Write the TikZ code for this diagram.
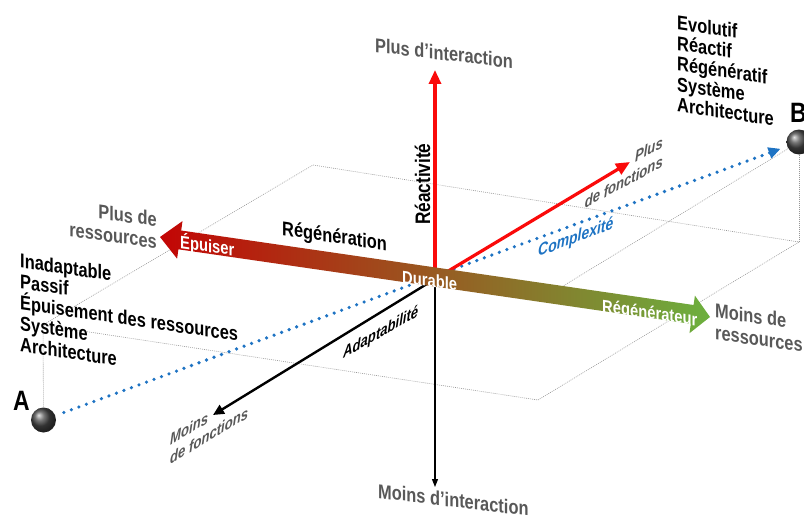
\documentclass[tikz,border=0pt]{standalone}
\usepackage{fontspec}
\setmainfont{Liberation Sans}[FakeStretch=0.82]
\usetikzlibrary{arrows.meta}

\definecolor{axisgray}{RGB}{88,88,88}
\definecolor{planegray}{RGB}{150,150,150}
\definecolor{cplxblue}{RGB}{30,115,195}
\definecolor{axisred}{RGB}{250,10,10}
\definecolor{bandred}{RGB}{195,5,5}
\definecolor{bandbrown}{RGB}{168,92,42}
\definecolor{bandgreen}{RGB}{108,176,62}

\begin{document}
\begin{tikzpicture}[x=1pt, y=-1pt,
  planeline/.style={draw=planegray, line width=0.6pt, dash pattern=on 0.9pt off 1.1pt},
  ball/.style={circle, minimum size=25pt, inner sep=0pt, shade, ball color=black!72},
  cplxline/.style={cplxblue, line width=3.6pt, line cap=round, dash pattern=on 0pt off 8pt},
  redaxis/.style={axisred, line width=3.2pt, -{Triangle[length=14pt,width=12pt]}},
  blackaxis/.style={black, line width=2.4pt, -{Triangle[length=11pt,width=10pt]}},
  thinaxis/.style={black, line width=1.2pt, -{Triangle[length=8pt,width=6pt]}},
  listtxt/.style={inner sep=0pt, align=left, font=\fontsize{20}{21}\selectfont\bfseries, yslant=-0.145},
  endtxt/.style={inner sep=0pt, text=axisgray, font=\fontsize{20}{22}\selectfont\bfseries},
  fntxt/.style={inner sep=0pt, text=axisgray, font=\fontsize{16}{19}\selectfont\bfseries\itshape},
  bandtxt/.style={inner sep=0pt, text=white, font=\fontsize{18}{18}\selectfont\bfseries, yslant=-0.1455},
  ptlabel/.style={inner sep=0pt, font=\fontsize{28}{28}\selectfont\bfseries}
]
  \useasboundingbox (0,0) rectangle (804,519);

  % Points and axes ends
  \coordinate (O) at (435,279);
  \coordinate (ztop) at (435,70);
  \coordinate (zbot) at (435,487);
  \coordinate (fplus) at (630,162);
  \coordinate (fminus) at (213,415);

  % Plane (dotted)
  \coordinate (pL) at (43,325);
  \coordinate (pT) at (313,165);
  \coordinate (pR) at (799,242);
  \coordinate (pF) at (538,400);
  \coordinate (bfoot) at (550,294);
  \node[ball] (A) at (43.5,420) {};
  \node[ball] (B) at (799,142) {};
  \draw[planeline] (pL) -- (pT) -- (pR) -- (pF) -- cycle;
  \draw[planeline] (A) -- (pL);
  \draw[planeline] (B) -- (pR);
  \draw[planeline] (B) -- (bfoot);

  % Complexity A -> B
  \draw[cplxline, shorten <=9pt, shorten >=7pt, -{Triangle[length=12pt,width=11pt]}] (A) -- (B);

  % Axes
  \draw[redaxis] (O) -- (ztop);
  \draw[thinaxis] (O) -- (zbot);
  \draw[redaxis] (O) -- (fplus);
  \draw[blackaxis] (O) -- (fminus);

  % Resources band
  \shade[left color=bandred, middle color=bandbrown, right color=bandgreen]
    (160,237) -- (182.5,221.1) -- (181.2,230.5) -- (693.6,305.0) -- (694.9,295.6)
    -- (710,317) -- (689.5,333.2) -- (690.8,323.8) -- (178.4,249.3) -- (177.1,258.7) -- cycle;

  % Texts
  \node[listtxt, anchor=north west] (leftlist) at (20,253)
    {Inadaptable\\Passif\\Épuisement des ressources\\Système\\Architecture};
  \node[listtxt, anchor=north west, font=\fontsize{20}{20.5}\selectfont\bfseries] (rightlist) at (677,15)
    {Evolutif\\Réactif\\Régénératif\\Système\\Architecture};
  \node[endtxt, anchor=base west, yslant=-0.12] (plusint) at (375,52) {Plus d'interaction};
  \node[endtxt, anchor=base west, yslant=-0.12] (moinsint) at (378,498) {Moins d'interaction};
  \node[endtxt, anchor=north east, align=right, yslant=-0.14] (plusres) at (157,212) {Plus de\\ressources};
  \node[endtxt, anchor=north west, align=left, yslant=-0.14] (moinsres) at (715,303) {Moins de\\ressources};
  \node[fntxt, anchor=south east, align=right, yslant=0.53] (fnplus) at (663,167) {Plus\\de fonctions};
  \node[fntxt, anchor=south west, align=left, yslant=0.6] (fnmoins) at (170,465) {Moins\\de fonctions};
  \node[inner sep=0pt, rotate=90, anchor=base west, font=\fontsize{21}{21}\selectfont\bfseries] (reac) at (430,225) {Réactivité};
  \node[inner sep=0pt, anchor=base west, yslant=-0.15, font=\fontsize{20}{20}\selectfont\bfseries] (regen) at (282,235) {Régénération};
  \node[inner sep=0pt, anchor=base west, yslant=0.57, font=\fontsize{16}{16}\selectfont\bfseries\itshape] (adapt) at (343,359) {Adaptabilité};
  \node[inner sep=0pt, anchor=base west, yslant=0.38, text=cplxblue, font=\fontsize{17}{17}\selectfont\bfseries\itshape] (cplx) at (538,257) {Complexité};
  \node[bandtxt, anchor=base west] (epuiser) at (180,248) {Épuiser};
  \node[bandtxt, anchor=base west] (durable) at (402,283) {Durable};
  \node[bandtxt, anchor=base west] (regenr) at (602,312) {Régénérateur};
  \node[ptlabel, anchor=base west] (labA) at (13,410) {A};
  \node[ptlabel, anchor=base west] (labB) at (790,122) {B};
\end{tikzpicture}
\end{document}
